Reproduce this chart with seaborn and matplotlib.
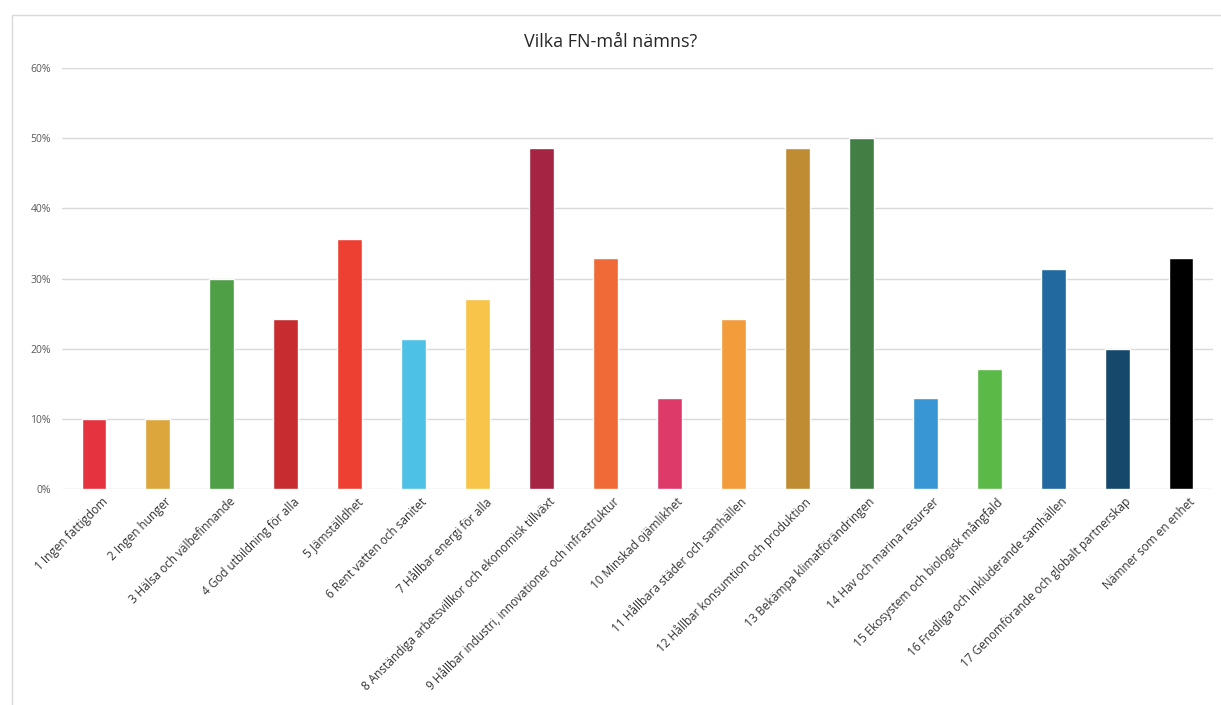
import matplotlib
matplotlib.use("Agg")
import matplotlib.pyplot as plt
import matplotlib.transforms as mtransforms
import seaborn as sns
import pandas as pd
from matplotlib.ticker import PercentFormatter, MultipleLocator
from matplotlib.patches import Rectangle

categories = [
    "1 Ingen fattigdom", "2 Ingen hunger", "3 Hälsa och välbefinnande",
    "4 God utbildning för alla", "5 Jämställdhet", "6 Rent vatten och sanitet",
    "7 Hållbar energi för alla", "8 Anständiga arbetsvillkor och ekonomisk tillväxt",
    "9 Hållbar industri, innovationer och infrastruktur", "10 Minskad ojämlikhet",
    "11 Hållbara städer och samhällen", "12 Hållbar konsumtion och produktion",
    "13 Bekämpa klimatförändringen", "14 Hav och marina resurser",
    "15 Ekosystem och biologisk mångfald", "16 Fredliga och inkluderande samhällen",
    "17 Genomförande och globalt partnerskap", "Nämner som en enhet",
]
values = [0.100, 0.100, 0.300, 0.243, 0.357, 0.214, 0.271, 0.486, 0.329,
          0.129, 0.243, 0.486, 0.500, 0.129, 0.171, 0.314, 0.200, 0.329]
colors = ["#E5343F", "#DDA63C", "#4E9F45", "#C72D30", "#EE4032", "#4DC1E6",
          "#F8C449", "#A52443", "#F06A37", "#DE3A69", "#F39C3C", "#C08C33",
          "#437F45", "#3896D5", "#5BB947", "#21699E", "#15486B", "#000000"]
title = "Vilka FN-mål nämns?"

df = pd.DataFrame({"cat": categories, "val": values})

sns.set_theme(style="white")
plt.rcParams["font.family"] = ["Open Sans", "DejaVu Sans"]

fig = plt.figure(figsize=(12.21, 7.05), dpi=100)
ax = fig.add_axes([0.0508, 0.3064, 0.9426, 0.5971])

sns.barplot(data=df, x="cat", y="val", hue="cat", palette=colors,
            legend=False, width=0.39, ax=ax, saturation=1)

ax.set_ylim(0, 0.60)
ax.set_xlim(-0.5, len(categories) - 0.5)
ax.yaxis.set_major_locator(MultipleLocator(0.10))
ax.yaxis.set_major_formatter(PercentFormatter(1.0, decimals=0))
ax.grid(axis="y", color="#d9d9d9", linewidth=1.0)
ax.set_axisbelow(True)
for s in ax.spines.values():
    s.set_visible(False)
ax.set_xlabel("")
ax.set_ylabel("")
ax.tick_params(axis="y", labelsize=7.5, colors="#595959", length=0, pad=8)
ax.tick_params(axis="x", length=0, pad=3)
ax.set_xticks(range(len(categories)))
ax.set_xticklabels(categories, rotation=45, ha="right", rotation_mode="anchor",
                   fontsize=8.5, color="#333333")
offset = mtransforms.ScaledTranslation(7 / 100, -2 / 100, fig.dpi_scale_trans)
for lab in ax.get_xticklabels():
    lab.set_transform(lab.get_transform() + offset)

fig.text(0.5, 0.94, title, ha="center", va="center", fontsize=13, color="#262626")

fig.patches.append(Rectangle((12 / 1221, -0.01), 1.0, 1 - 15 / 705 + 0.01,
                             transform=fig.transFigure, fill=False,
                             edgecolor="#d9d9d9", linewidth=1))

fig.savefig("out.png", dpi=100)
